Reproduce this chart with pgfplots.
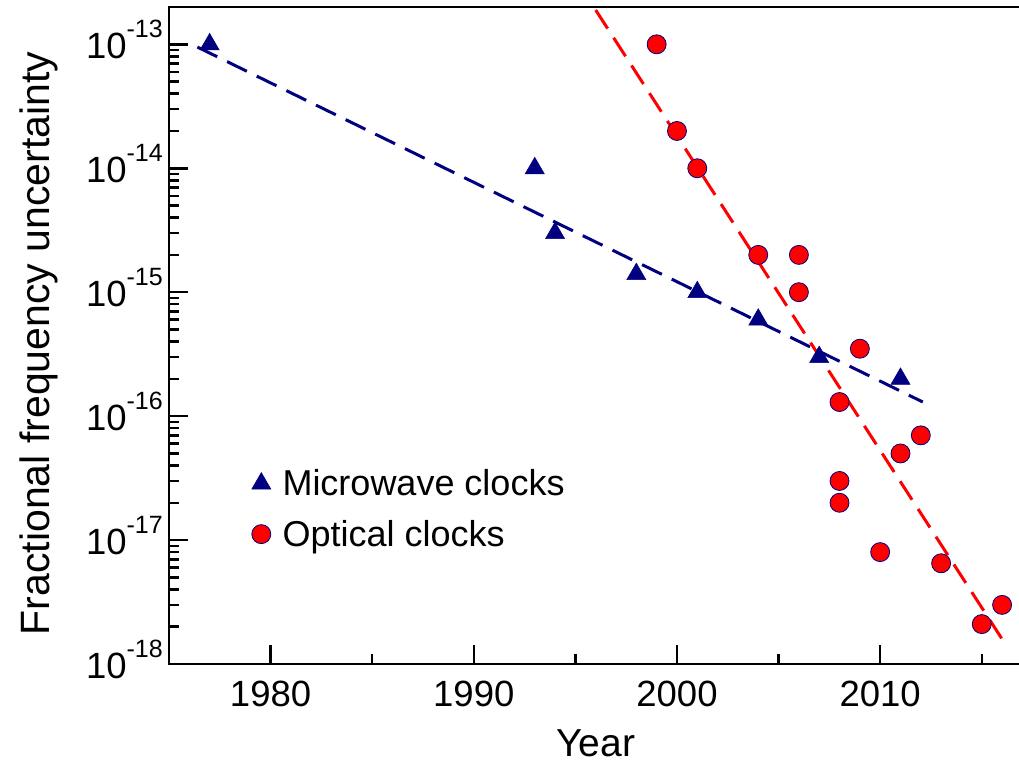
\documentclass[border=0pt]{standalone}
\usepackage{fontspec}
\setmainfont{Liberation Sans}
\usepackage{pgfplots}
\pgfplotsset{compat=1.18}
\definecolor{navyb}{RGB}{0,0,128}
\definecolor{redc}{RGB}{255,0,0}
\newcommand\tp[1]{10\raisebox{21pt}{\fontsize{25}{25}\selectfont -#1}}
\begin{document}
\begin{tikzpicture}
\begin{axis}[
  scale only axis, width=853.4pt, height=657pt,
  xmin=1975, xmax=2017,
  ymode=log, log basis y=10, ymin=1e-18, ymax=2e-13,
  axis line style={line width=2.5pt},
  tick style={line width=2.5pt, black},
  tick align=inside, xtick pos=left, ytick pos=left,
  major tick length=19pt, minor tick length=10pt,
  xtick={1980,1990,2000,2010}, xticklabels={1980,1990,2000,2010},
  minor xtick={1975,1985,1995,2005,2015},
  ytick={1e-18,1e-17,1e-16,1e-15,1e-14,1e-13},
  yticklabels={\tp{18},\tp{17},\tp{16},\tp{15},\tp{14},\tp{13}},
  minor ytick={2e-18,3e-18,4e-18,5e-18,6e-18,7e-18,8e-18,9e-18,
               2e-17,3e-17,4e-17,5e-17,6e-17,7e-17,8e-17,9e-17,
               2e-16,3e-16,4e-16,5e-16,6e-16,7e-16,8e-16,9e-16,
               2e-15,3e-15,4e-15,5e-15,6e-15,7e-15,8e-15,9e-15,
               2e-14,3e-14,4e-14,5e-14,6e-14,7e-14,8e-14,9e-14},
  ticklabel style={font=\fontsize{36.5}{43}\selectfont},
  xticklabel style={inner sep=0pt, anchor=base, yshift=-42.7pt},
  yticklabel style={inner sep=0pt, anchor=base east, xshift=-6pt, yshift=-14.4pt},
  xlabel={Year}, ylabel={Fractional frequency uncertainty},
  xlabel style={at={([yshift=-92.7pt]axis description cs:0.5,0)}, anchor=base, font=\fontsize{39}{46}\selectfont},
  ylabel style={at={([xshift=-119pt]axis description cs:0,0.488)}, anchor=base, rotate=0, font=\fontsize{41}{49}\selectfont},
  legend style={at={(rel axis cs:0.096,0.296)}, anchor=north west, draw=none, fill=none,
     inner sep=0pt, font=\fontsize{36}{43}\selectfont, row sep=23pt, column sep=11pt,
     nodes={inner sep=0pt}},
  legend cell align=left,
  legend image code/.code={\draw[#1] plot coordinates {(10pt,0pt)}; \path (0pt,-5pt) (20pt,5pt);},
]
\addplot[navyb, line width=3pt, dash pattern=on 22pt off 11pt, forget plot]
  coordinates {(1976.4,9.5e-14) (2012.1,1.3e-16)};
\addplot[redc, line width=3pt, dash pattern=on 22pt off 11pt, forget plot]
  coordinates {(1996,1.89e-13) (2016,1.59e-18)};
\addplot[only marks, mark=triangle*, mark size=11pt,
  mark options={fill=navyb, draw=navyb, line width=0.5pt, solid}]
  coordinates {(1977,1e-13) (1993,1e-14) (1994,3e-15) (1998,1.4e-15)
               (2001,1e-15) (2004,6e-16) (2007,3e-16) (2011,2e-16)};
\addlegendentry{Microwave clocks}
\addplot[only marks, mark=*, mark size=9.5pt,
  mark options={fill=redc, draw=navyb, line width=0.8pt, solid}]
  coordinates {(1999,1e-13) (2000,2e-14) (2001,1e-14) (2004,2e-15)
               (2006,2e-15) (2006,1e-15) (2008,1.3e-16) (2008,3e-17)
               (2008,2e-17) (2009,3.5e-16) (2010,8e-18) (2011,5e-17)
               (2012,7e-17) (2013,6.5e-18) (2015,2.1e-18) (2016,3e-18)};
\addlegendentry{Optical clocks}
\path (rel axis cs:0,0) coordinate (O);
\end{axis}
\pgfresetboundingbox
\path[use as bounding box] (O) ++(-169pt,-99pt) rectangle ++(1019pt,763pt);
\end{tikzpicture}
\end{document}
